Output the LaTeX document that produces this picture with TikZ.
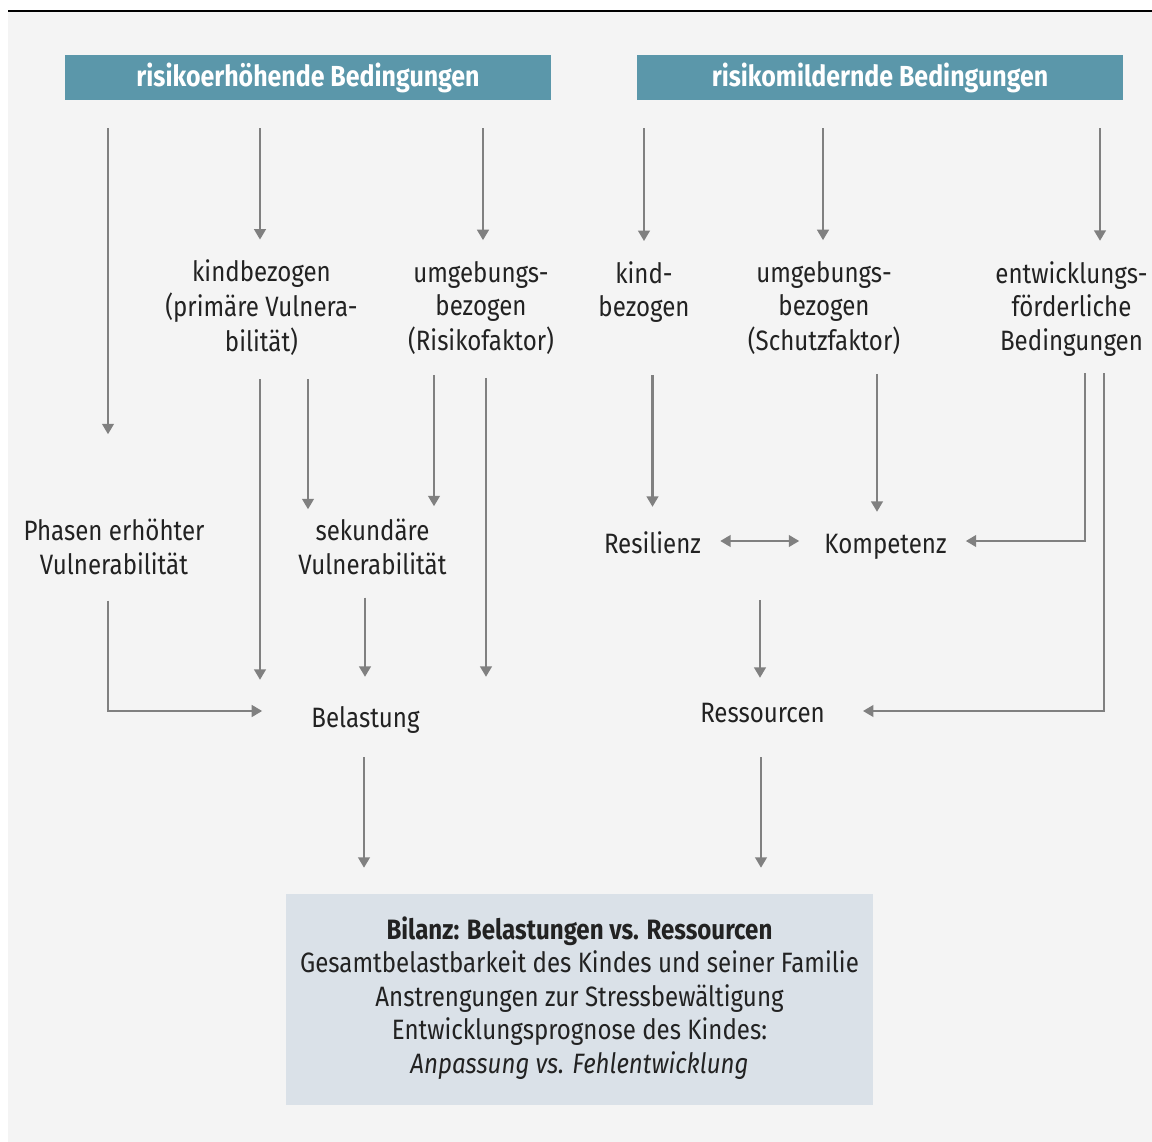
\documentclass[tikz,border=0pt]{standalone}
\usepackage{fontspec}
\setmainfont{Fira Sans}[FakeStretch=0.86]
\usetikzlibrary{arrows.meta}
\definecolor{bgc}{HTML}{F4F4F4}
\definecolor{headc}{HTML}{5B97AA}
\definecolor{arrc}{HTML}{808080}
\definecolor{txtc}{HTML}{222222}
\definecolor{bilc}{HTML}{DAE1E8}
\begin{document}
\begin{tikzpicture}[x=1pt,y=-1pt,
  lbl/.style={align=center, inner sep=0pt, text=txtc, font=\fontsize{28}{33.5}\selectfont},
  headbox/.style={fill=headc, text=white, minimum width=486pt, minimum height=45pt, inner sep=0pt, font=\fontsize{29}{33.5}\selectfont\bfseries},
  bilbox/.style={fill=bilc, text=txtc, minimum width=587pt, minimum height=211pt, inner sep=0pt, align=center, font=\fontsize{28}{33.5}\selectfont},
  arr/.style={draw=arrc, line width=2.8pt, -{Triangle[length=10.5pt,width=11.5pt]}},
  darr/.style={draw=arrc, line width=2.8pt, {Triangle[length=10.5pt,width=11.5pt]}-{Triangle[length=10.5pt,width=11.5pt]}}]
\useasboundingbox (0,0) rectangle (1152,1142);
\fill[bgc] (8,12) rectangle (1152,1142);
\draw[line width=2pt] (8,11) -- (1152,11);

% header boxes
\node[headbox] (hL) at (308,77.5) {\raisebox{-2pt}{risikoerhöhende Bedingungen}};
\node[headbox] (hR) at (880,77.5) {\raisebox{-2pt}{risikomildernde Bedingungen}};

% second row
\node[lbl] (kb) at (261.5,309.8) {\strut kindbezogen\\\strut(primäre Vulnera-\\\strut bilität)};
\node[lbl] (ur) at (481,309.8) {\strut umgebungs-\\\strut bezogen\\\strut(Risikofaktor)};
\node[lbl] (kk) at (644,293.3) {\strut kind-\\\strut bezogen};
\node[lbl] (us) at (824,309.8) {\strut umgebungs-\\\strut bezogen\\\strut(Schutzfaktor)};
\node[lbl] (ef) at (1071.5,309.8) {\strut entwicklungs-\\\strut förderliche\\\strut Bedingungen};

% third row
\node[lbl] (ph) at (114,551) {\strut Phasen erhöhter\\\strut Vulnerabilität};
\node[lbl] (sv) at (372.5,551) {\strut sekundäre\\\strut Vulnerabilität};
\node[lbl] (res) at (652.5,546.3) {\strut Resilienz};
\node[lbl] (kom) at (885.5,546.3) {\strut Kompetenz};

% fourth row
\node[lbl] (bel) at (365.5,720.3) {\strut Belastung};
\node[lbl] (ress) at (762.5,715.3) {\strut Ressourcen};

% balance box
\node[bilbox] (bil) at (579.5,999.5) {\strut\textbf{Bilanz: Belastungen vs. Ressourcen}\\\strut Gesamtbelastbarkeit des Kindes und seiner Familie\\\strut Anstrengungen zur Stressbewältigung\\\strut Entwicklungsprognose des Kindes:\\\strut\textit{Anpassung vs. Fehlentwicklung}};

% header arrows
\draw[arr, shorten <=28pt, shorten >=83pt] ([xshift=-6pt]ph.north |- hL.south) -- ([xshift=-6pt]ph.north);
\draw[arr, shorten <=28pt, shorten >=18.5pt] ([xshift=-1.5pt]kb.north |- hL.south) -- ([xshift=-1.5pt]kb.north);
\draw[arr, shorten <=28pt, shorten >=18.5pt] ([xshift=2pt]ur.north |- hL.south) -- ([xshift=2pt]ur.north);
\draw[arr, shorten <=28pt, shorten >=18.5pt] (kk.north |- hR.south) -- (kk.north);
\draw[arr, shorten <=28pt, shorten >=18.5pt] ([xshift=-1pt]us.north |- hR.south) -- ([xshift=-1pt]us.north);
\draw[arr, shorten <=28pt, shorten >=18.5pt] ([xshift=28.5pt]ef.north |- hR.south) -- ([xshift=28.5pt]ef.north);

% left side
\draw[arr, shorten <=18pt, shorten >=23.5pt] ([xshift=-1.5pt]kb.south) -- ([xshift=-1.5pt]kb.south |- bel.north);
\draw[arr, shorten <=18pt, shorten >=8pt] ([xshift=46.5pt]kb.south) -- ([xshift=46.5pt]kb.south |- sv.north);
\draw[arr, shorten <=14pt, shorten >=11pt] ([xshift=-47pt]ur.south) -- ([xshift=-47pt]ur.south |- sv.north);
\draw[arr, shorten <=17pt, shorten >=26.5pt] ([xshift=5pt]ur.south) -- ([xshift=5pt]ur.south |- bel.north);
\draw[arr, shorten <=16pt, shorten >=49pt] ([xshift=-6pt]ph.south) |- ([yshift=9.3pt]bel.west);
\draw[arr, shorten <=13pt, shorten >=26.5pt] ([xshift=-0.5pt]sv.south -| bel.north) -- ([xshift=-0.5pt]bel.north);
\draw[arr, shorten <=20pt, shorten >=26pt] ([xshift=-1.5pt]bel.south) -- ([xshift=-1.5pt]bel.south |- bil.north);

% right side
\draw[arr, shorten <=48pt, shorten >=22.5pt] (res.north |- kk.south) -- (res.north);
\draw[arr, shorten <=13pt, shorten >=17.5pt] ([xshift=53pt]us.south) -- ([xshift=53pt]us.south |- kom.north);
\draw[arr, shorten <=13pt, shorten >=19pt] ([xshift=13.5pt]ef.south) |- ([yshift=5.3pt]kom.east);
\draw[arr, shorten <=13pt, shorten >=38pt] ([xshift=32.5pt]ef.south) |- ([yshift=4.3pt]ress.east);
\draw[darr, shorten <=19pt, shorten >=25pt] ([yshift=5.3pt]res.east) -- ([yshift=5.3pt]res.east -| kom.west);
\draw[arr, shorten <=37pt, shorten >=20.5pt] ([xshift=-2.5pt]ress.north |- res.south) -- ([xshift=-2.5pt]ress.north);
\draw[arr, shorten <=25pt, shorten >=26pt] ([xshift=-1.5pt]ress.south) -- ([xshift=-1.5pt]ress.south |- bil.north);
\end{tikzpicture}
\end{document}
